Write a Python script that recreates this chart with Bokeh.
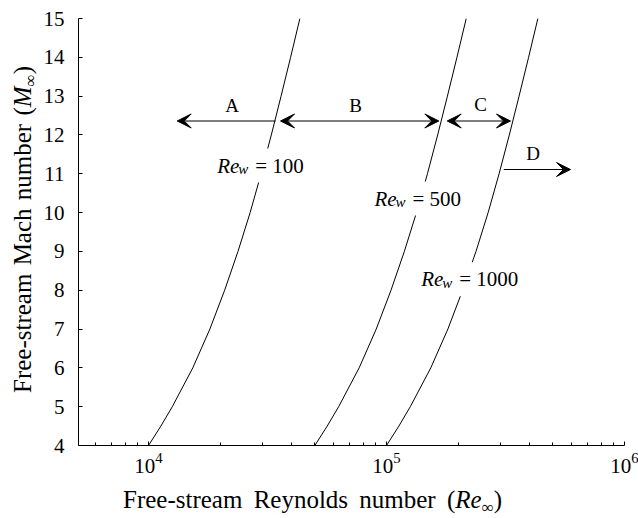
import math
from bokeh.plotting import figure
from bokeh.models import Range1d, FixedTicker, Label, Arrow, VeeHead, Div
from bokeh.layouts import row, column
from bokeh.embed import file_html
from bokeh.resources import INLINE

# ---------------- data ----------------
mach = [4, 4.5, 5, 6, 7, 8, 9, 10, 11, 12, 13, 14, 15]
re_inf_w100 = [10000, 11270, 12590, 15350, 18110, 20890, 23770, 26730, 29720, 32810, 36060, 39540, 43250]
re_inf_w500 = [50000, 56350, 62950, 76750, 90550, 104450, 118850, 133650, 148600, 164050, 180300, 197700, 216250]
re_inf_w1000 = [100000, 112700, 125900, 153500, 181100, 208900, 237700, 267300, 297200, 328100, 360600, 395400, 432500]

curve_names = ["100", "500", "1000"]
curve_label_x = [19440, 89040, 139900]
curve_label_m = [11.21, 10.36, 8.28]

region_names = ["A", "B", "C", "D"]
region_label_x = [22480, 74070, 248300, 413400]
region_label_m = [12.76, 12.76, 12.78, 11.52]

arrow_x_start = [34180, 35860, 179900, 311000]
arrow_x_end = [13200, 165900, 331900, 593000]
arrow_m = [12.36, 12.36, 12.36, 11.11]
arrow_head_start = [False, True, True, False]
arrow_head_end = [True, True, True, True]

x_major = [1e4, 1e5, 1e6]
x_minor = [6e3, 7e3, 8e3, 9e3,
           2e4, 3e4, 4e4, 5e4, 6e4, 7e4, 8e4, 9e4,
           2e5, 3e5, 4e5, 5e5, 6e5, 7e5, 8e5, 9e5]
y_major = list(range(4, 16))

x_title = "Free-stream Reynolds number ("
x_title_sym = "Re"
y_title = "Free-stream Mach number ("
y_title_sym = "M"

SERIF = "Liberation Serif"

p = figure(width=600, height=488, x_axis_type="log",
           x_range=Range1d(5080, 1e6), y_range=Range1d(4, 15),
           output_backend="svg", toolbar_location=None,
           min_border_left=40, min_border_right=14,
           min_border_top=18, min_border_bottom=43, margin=0)
p.outline_line_color = None
p.grid.visible = False
p.background_fill_color = "white"
p.border_fill_color = "white"

for ax in (p.xaxis[0], p.yaxis[0]):
    ax.axis_line_color = "black"
    ax.axis_line_width = 1
    ax.major_tick_line_color = "black"
    ax.minor_tick_line_color = "black"
    ax.major_tick_out = 0
    ax.minor_tick_out = 0
    ax.major_label_text_font = SERIF
    ax.major_label_text_font_size = "21px"
    ax.major_label_text_color = "black"

p.xaxis.ticker = FixedTicker(ticks=x_major, minor_ticks=x_minor)
p.xaxis.major_tick_in = 4
p.xaxis.minor_tick_in = 3
p.xaxis.major_label_standoff = 7

p.yaxis.ticker = FixedTicker(ticks=y_major)
p.yaxis.major_tick_in = 4
p.yaxis.minor_tick_line_color = None
p.yaxis.major_label_standoff = 14

for re_vals in (re_inf_w100, re_inf_w500, re_inf_w1000):
    p.line(re_vals, mach, line_color="black", line_width=1)

# Re_w labels (white box masks the curve)
for name, lx, lm in zip(curve_names, curve_label_x, curve_label_m):
    p.add_layout(Label(x=lx, y=lm, x_offset=33, text="= " + name,
                       text_font=SERIF, text_font_size="21px", text_color="black",
                       text_baseline="alphabetic", text_align="left",
                       background_fill_color="white", background_fill_alpha=1.0,
                       padding=5))
    p.add_layout(Label(x=lx, y=lm, text="Re", text_font=SERIF, text_font_size="21px",
                       text_font_style="italic", text_color="black",
                       text_baseline="alphabetic", text_align="left"))
    p.add_layout(Label(x=lx, y=lm, x_offset=21, y_offset=-3.5, text="w",
                       text_font=SERIF, text_font_size="15px",
                       text_font_style="italic", text_color="black",
                       text_baseline="alphabetic", text_align="left"))

for xs, xe, m, hs, he in zip(arrow_x_start, arrow_x_end, arrow_m, arrow_head_start, arrow_head_end):
    p.add_layout(Arrow(x_start=xs, y_start=m, x_end=xe, y_end=m,
                       line_color="black", line_width=1.2,
                       start=VeeHead(size=14, fill_color="black", line_color="black", line_width=1) if hs else None,
                       end=VeeHead(size=14, fill_color="black", line_color="black", line_width=1) if he else None))

for name, lx, lm in zip(region_names, region_label_x, region_label_m):
    p.add_layout(Label(x=lx, y=lm, text=name, text_font=SERIF, text_font_size="19px",
                       text_color="black", text_align="center", text_baseline="middle"))

font_css = "font-family:'Liberation Serif',serif;font-size:25px;color:black;line-height:25px;white-space:nowrap;"
sub_css = "font-size:17px;position:relative;top:5px;"

x_html = (
    '<div style="position:relative;width:600px;height:30px;">'
    f'<div style="position:absolute;left:85px;top:-1px;{font_css}word-spacing:5px;">'
    f'{x_title}<i>{x_title_sym}</i><span style="{sub_css}">∞</span>)</div></div>'
)
y_html = (
    '<div style="position:relative;width:38px;height:518px;">'
    f'<div style="position:absolute;left:10px;top:393px;transform-origin:0 0;'
    f'transform:rotate(-90deg);{font_css}word-spacing:2px;">'
    f'{y_title}<i>{y_title_sym}</i><span style="{sub_css}">∞</span>)</div></div>'
)

xdiv = Div(text=x_html, width=600, height=30, margin=0)
ydiv = Div(text=y_html, width=38, height=518, margin=0)

layout = row(ydiv, column(p, xdiv, spacing=0, margin=0), spacing=0, margin=0)

open("out.html", "w").write(file_html(layout, INLINE))
